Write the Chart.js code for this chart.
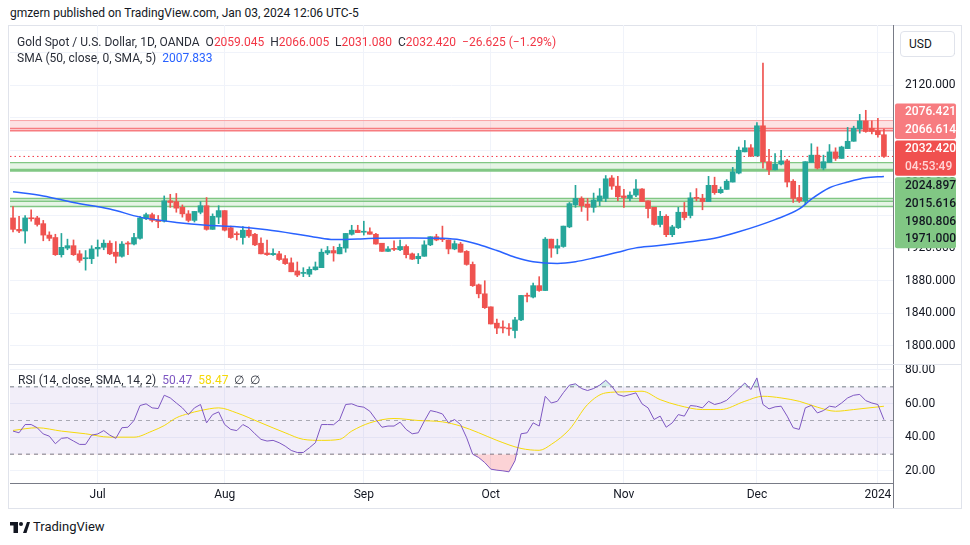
<!DOCTYPE html>
<html lang="en">
<head>
<meta charset="UTF-8" />
<title>Gold Spot / U.S. Dollar, 1D</title>
<script src="https://cdn.jsdelivr.net/npm/chart.js"></script>
<style>
  * { box-sizing: border-box; margin: 0; padding: 0; }
  body { width: 970px; height: 545px; background: #fff; font-family: Roboto, Arial, sans-serif; color: #131722; position: relative; overflow: hidden; }
  .abs { position: absolute; white-space: nowrap; }
  #frame { left: 8px; top: 25px; width: 954px; height: 484px; border: 1px solid #e0e3eb; }
  #mainWrap { left: 8px; top: 25px; width: 952px; height: 340px; }
  #rsiWrap { left: 8px; top: 365px; width: 952px; height: 143px; }
  #sep { left: 9px; top: 364px; width: 952px; height: 1px; background: #e0e3eb; }
  #axisSep { left: 893px; top: 483px; width: 1px; height: 25px; background: #787b86; }
  .hdr { left: 10px; top: 6px; font-size: 12px; line-height: 15px; color: #131722; }
  .legend { font-size: 12px; line-height: 15px; color: #2a2e39; }
  .red { color: #f23645; }
  .blue { color: #2962ff; }
  .purple { color: #7e57c2; }
  .yellow { color: #f5d90a; }
  #usd { left: 900px; top: 31px; width: 55px; height: 26px; border: 1px solid #e0e3eb; border-radius: 4px; background: #fff; font-size: 12px; line-height: 24px; padding-left: 8px; z-index: 5; }
  #logo { left: 10px; top: 519px; font-size: 13px; line-height: 16px; color: #131722; display: flex; align-items: center; gap: 3px; }
</style>
</head>
<body>

<div class="abs hdr">gmzern published on TradingView.com, Jan 03, 2024 12:06 UTC-5</div>
<div class="abs" id="frame"></div>
<div class="abs" id="mainWrap"><canvas id="mainChart"></canvas></div>
<div class="abs" id="sep"></div>
<div class="abs" id="rsiWrap"><canvas id="rsiChart"></canvas></div>
<div class="abs" id="axisSep"></div>
<div class="abs" id="usd">USD</div>

<div class="abs legend" id="legend1" style="left:17px;top:35px"></div>
<div class="abs legend" id="legend2" style="left:17px;top:51px"></div>
<div class="abs legend" id="legend3" style="left:18px;top:373px"></div>

<div class="abs" id="logo">
  <svg width="20" height="11" viewBox="0 0 20 11">
    <rect x="0" y="0" width="8" height="3.5" fill="#131722"/>
    <rect x="3.5" y="0" width="4.5" height="11" fill="#131722"/>
    <circle cx="11" cy="2" r="2" fill="#131722"/>
    <polygon points="13,11 17,0 20,0 16.5,11" fill="#131722"/>
  </svg>
  <span>TradingView</span>
</div>

<script>
  const UP = '#26a69a';
  const DOWN = '#ef5350';
  const GRID = '#f0f3fa';

  // daily candles, Jun 13 2023 .. Jan 3 2024
  const opens = [
    1957, 1943, 1941, 1957, 1957, 1950, 1936, 1933, 1912, 1920,
    1923, 1913, 1907, 1907, 1919, 1921, 1926, 1915, 1910, 1925.5,
    1925, 1932, 1956, 1961, 1954.3, 1953, 1978, 1977, 1970, 1962,
    1954, 1964, 1972, 1943, 1958, 1966, 1945, 1937.5, 1933, 1942,
    1937, 1926, 1914, 1912, 1913, 1907, 1902, 1892, 1889, 1888,
    1893.5, 1896, 1914, 1917, 1913, 1920, 1937, 1942, 1939.5, 1940,
    1937, 1926, 1916, 1919, 1918, 1922, 1913, 1907, 1910, 1924,
    1934, 1931, 1930, 1919, 1925, 1916, 1900, 1875, 1864, 1848,
    1828, 1823, 1822, 1819, 1832, 1862, 1860, 1874, 1868, 1931,
    1920, 1922, 1946, 1973, 1981, 1974, 1970, 1978, 1981, 2006,
    1996, 1984, 1981, 1985, 1992.5, 1978, 1970, 1949, 1959, 1936.5,
    1945, 1964, 1960, 1982, 1981, 1977, 1997, 1988, 1992, 2001,
    2012, 2038, 2043, 2033, 2070, 2026, 2016, 2023, 2027, 2002,
    1982, 1978, 2025, 2034, 2018, 2025, 2038, 2030, 2042, 2051,
    2066, 2076, 2067, 2064, 2059.045
  ];
  const highs = [
    1971, 1959, 1960, 1967, 1959, 1954, 1940, 1937, 1938, 1931,
    1930, 1917, 1917, 1923, 1930, 1930, 1929, 1928, 1928, 1928,
    1938, 1959, 1963, 1963, 1960, 1984, 1986, 1987, 1973, 1966,
    1965, 1977, 1982, 1962, 1972, 1966, 1947, 1940, 1946.5, 1946,
    1938, 1932.5, 1930, 1919, 1916, 1911, 1908, 1903, 1896, 1897,
    1903, 1919, 1922, 1922, 1925, 1938, 1948, 1948, 1953, 1945,
    1938, 1926, 1922, 1929, 1930, 1924, 1914, 1913.4, 1929, 1934,
    1937, 1947, 1930, 1929, 1927, 1917, 1903, 1876, 1880, 1848,
    1833, 1831, 1827.6, 1835, 1862, 1865, 1877, 1885, 1933, 1931,
    1931, 1947, 1976, 1997, 1983, 1981, 1987.5, 1993, 2009, 2009,
    2008, 1992, 1989, 2004, 1993, 1978, 1970, 1965, 1961, 1948,
    1970, 1976, 1988, 1993, 1986, 2008, 2007, 1995, 2004, 2019,
    2044, 2052, 2047, 2074, 2147, 2041, 2036, 2040, 2029, 2004,
    1997, 2026, 2048, 2044, 2034, 2047, 2043, 2045, 2068, 2069.5,
    2084, 2089, 2076, 2079, 2066.005
  ];
  const lows = [
    1940, 1939, 1926, 1953, 1947, 1929, 1929, 1911, 1909, 1918,
    1911, 1902.5, 1893, 1901, 1910, 1918, 1912, 1902, 1909, 1912,
    1924, 1931, 1955, 1952, 1945, 1952, 1970, 1964, 1958, 1952,
    1952, 1962, 1942, 1943, 1950, 1941, 1932, 1930, 1925, 1933,
    1923, 1913, 1911, 1911, 1905, 1900, 1891, 1885, 1885, 1885,
    1893, 1896, 1912, 1904, 1913, 1915, 1936, 1939, 1936, 1937,
    1925, 1916, 1916, 1917, 1917, 1908, 1906, 1901, 1910, 1923,
    1929, 1928, 1913, 1918, 1915, 1899, 1873, 1859, 1846, 1827,
    1815, 1816, 1813, 1810, 1831, 1854, 1859, 1867, 1868, 1908.7,
    1913, 1921, 1945, 1970, 1965, 1954, 1964, 1972, 1977, 1992,
    1978, 1970, 1978, 1983, 1977, 1957, 1948, 1946, 1934, 1934,
    1944, 1954.6, 1957, 1978, 1967, 1977, 1986, 1987, 1992, 2001,
    2011, 2038, 2032, 2033, 2018, 2010, 2016, 2022, 1995, 1976,
    1976, 1973, 2025, 2017, 2016, 2025, 2027.5, 2030, 2042, 2051,
    2061, 2062, 2060, 2056, 2031.08
  ];
  const closes = [
    1943, 1941, 1957, 1956, 1949, 1936, 1932, 1912, 1921, 1923,
    1912, 1905, 1908, 1919, 1921, 1926, 1913, 1910, 1925, 1925,
    1933, 1957, 1961, 1954, 1952.6, 1978, 1976, 1969, 1962, 1954,
    1965, 1972, 1943, 1959, 1966, 1942, 1933, 1936.5, 1942, 1935,
    1924, 1913, 1912, 1913.5, 1906, 1901, 1891, 1887, 1890, 1894,
    1897, 1915, 1917, 1914, 1921, 1938, 1942, 1939, 1940.5, 1937,
    1925, 1916, 1919, 1918.5, 1922, 1912, 1906.5, 1910, 1924, 1934,
    1930, 1930.5, 1919, 1925.5, 1915, 1900, 1874, 1864, 1847, 1827,
    1822, 1822, 1821, 1832, 1862, 1861, 1874, 1868, 1931, 1920,
    1923, 1947, 1974.5, 1981, 1972, 1970, 1979, 1984, 2005, 1996,
    1983, 1982, 1985, 1992.5, 1977, 1968.5, 1949, 1959, 1936.5, 1946,
    1964, 1957.5, 1981.5, 1981, 1977, 1997, 1988, 1992, 2002, 2013.5,
    2040, 2043, 2033, 2070, 2026, 2016, 2023, 2027, 2001, 1981,
    1978, 2026, 2034, 2018, 2026, 2038, 2030, 2044, 2051, 2067,
    2076, 2063, 2063, 2059.045, 2032.42
  ];

  // SMA(50) at some bars
  const smaIdx = [0, 5, 10, 16, 21, 27, 32, 37, 42, 47, 50, 53, 57, 60, 66, 71, 74, 77, 80, 83,
                  86, 90, 93, 96, 100, 103, 106, 111, 116, 120, 126, 130, 132, 135, 138, 141, 144];
  const smaVal = [1989, 1984, 1976, 1968, 1958, 1951.5, 1948, 1946.3, 1942.5, 1937, 1933.3, 1930.5,
                  1931.3, 1932, 1932.5, 1932, 1930, 1924.5, 1917, 1908.8, 1903.4, 1901.3, 1903.4,
                  1907.9, 1915, 1920.3, 1922.7, 1927, 1932, 1940, 1955, 1968, 1980, 1994, 2001,
                  2006.3, 2007.833];

  // RSI(14) per bar
  const rsi = [
    43.7, 42.7, 47.6, 47.6, 45.7, 42, 40.7, 36.2, 39.4, 39.8,
    37.8, 35.8, 35.8, 41.3, 42, 44, 41.3, 39.4, 45.7, 46,
    50, 58.9, 59.9, 57.5, 57.1, 65, 63.4, 60.4, 57.5, 53.5,
    57.5, 59.5, 48.6, 53.5, 55.1, 47.6, 44.7, 44, 47.6, 45.7,
    42.1, 38.8, 37.8, 38.2, 36.8, 34.8, 32.2, 31, 31, 33.8,
    36.8, 47.6, 47.6, 47.5, 50.5, 59.5, 59.9, 58.5, 57.9, 55.5,
    50.6, 46, 46.7, 46.7, 49, 44.7, 42.1, 42.7, 49.6, 55.9,
    55.1, 53.9, 48.6, 50.6, 47.6, 39.8, 30, 28, 25, 21.1,
    20.5, 20.1, 19.5, 26.1, 42.1, 42.7, 48.6, 46.7, 64.4, 60.4,
    61.4, 66.5, 71, 71.8, 69, 67.8, 69, 71, 73.9, 70.4,
    65.4, 64.4, 65.4, 66.4, 59.9, 57.5, 50.6, 52.6, 46, 48.6,
    53.5, 52.6, 58.9, 58.5, 57.5, 61.4, 59.5, 60.4, 62, 65.4,
    68.8, 72.3, 68.4, 75.3, 59.5, 56.9, 58.1, 58.5, 52.6, 45.7,
    44.7, 57.5, 59, 54.5, 55.9, 58.5, 57.9, 60.4, 63.4, 65,
    65.5, 61.8, 60.4, 59.5, 50.47
  ];
  // RSI-based SMA(14), read at some bars
  const rsiMaIdx = [0, 4, 8, 12, 16, 20, 23, 25, 27, 29, 31, 34, 37, 41, 45, 48, 51, 54, 56, 59,
                    63, 67, 71, 74, 77, 80, 84, 87, 89, 92, 95, 98, 101, 104, 107, 110, 114, 117,
                    121, 124, 127, 130, 133, 136, 139, 144];
  const rsiMaVal = [44.1, 45.7, 43.7, 42.1, 40.1, 40.1, 43.7, 47, 51.6, 54.1, 55.9, 57.5, 54.5, 48.6,
                    42.7, 38.8, 38.2, 38.8, 43.7, 48.6, 51.2, 50, 49.2, 46.7, 42.7, 38.2, 33.4, 32.3,
                    35.8, 44.7, 59.5, 66.4, 67, 67.4, 62.4, 59, 56.5, 56.5, 61.4, 64.4, 63.4, 61.4,
                    57.9, 55.5, 56.5, 58.47];

  // drawn levels
  const redZone = [2076.421, 2063.8];
  const redLines = [2076.421, 2066.614, 2063.8];
  const greenZoneA = [2024.897, 2015.616];
  const greenZoneB = [1980.806, 1971.0];
  const greenLinesB = [1980.806, 1977.6, 1971.0];
  const redTags = [2076.421, 2066.614];
  const greenTags = [2024.897, 2015.616, 1980.806, 1971.0];
  const countdown = '04:53:49';

  const priceTicks = [1800, 1840, 1880, 1920, 1960, 2000, 2040, 2080, 2120, 2160];
  const rsiTicks = [20, 40, 60, 80];
  const monthText = ['Jul', 'Aug', 'Sep', 'Oct', 'Nov', 'Dec', '2024'];
  const holidays = ['2023-12-25', '2024-01-01'];

  function tradingDays() {
    const out = [];
    const d = new Date(Date.UTC(2023, 5, 13));
    const end = Date.UTC(2024, 0, 3);
    while (d.getTime() <= end) {
      const wd = d.getUTCDay();
      const s = d.toISOString().slice(0, 10);
      if (wd !== 0 && wd !== 6 && !holidays.includes(s)) out.push(s);
      d.setUTCDate(d.getUTCDate() + 1);
    }
    return out;
  }

  const dates = tradingDays();
  const slots = dates.concat(['']); // one empty slot = right margin before the price scale
  const monthIdx = [];
  dates.forEach((d, i) => { if (i > 0 && d.slice(5, 7) !== dates[i - 1].slice(5, 7)) monthIdx.push(i); });

  const colors = closes.map((c, i) => c >= opens[i] ? UP : DOWN);
  const smaData = slots.map(() => null);
  smaIdx.forEach((k, j) => { smaData[k] = smaVal[j]; });
  const rsiMaData = slots.map(() => null);
  rsiMaIdx.forEach((k, j) => { rsiMaData[k] = rsiMaVal[j]; });

  // legends
  const n = closes.length - 1;
  const chg = closes[n] - closes[n - 1];
  const pct = chg / closes[n - 1] * 100;
  const cls = chg < 0 ? 'red' : 'green';
  const f3 = v => v.toFixed(3);
  const minus = s => s.replace('-', '\u2212');
  document.getElementById('legend1').innerHTML =
    'Gold Spot / U.S. Dollar, 1D, OANDA&nbsp;&nbsp;' +
    'O<span class="' + cls + '">' + f3(opens[n]) + '</span>&nbsp;&nbsp;' +
    'H<span class="' + cls + '">' + f3(highs[n]) + '</span>&nbsp;&nbsp;' +
    'L<span class="' + cls + '">' + f3(lows[n]) + '</span>&nbsp;&nbsp;' +
    'C<span class="' + cls + '">' + f3(closes[n]) + '</span>&nbsp;&nbsp;' +
    '<span class="' + cls + '">' + minus(f3(chg)) + ' (' + minus(pct.toFixed(2)) + '%)</span>';
  document.getElementById('legend2').innerHTML =
    'SMA (50, close, 0, SMA, 5)&nbsp;&nbsp;<span class="blue">' + f3(smaVal[smaVal.length - 1]) + '</span>';
  document.getElementById('legend3').innerHTML =
    'RSI (14, close, SMA, 14, 2)&nbsp;&nbsp;<span class="purple">' + rsi[rsi.length - 1].toFixed(2) +
    '</span>&nbsp;&nbsp;<span class="yellow">' + rsiMaVal[rsiMaVal.length - 1].toFixed(2) +
    '</span>&nbsp;&nbsp;\u2205&nbsp;&nbsp;\u2205';

  function hLine(ctx, area, y, color, width, dash) {
    ctx.save();
    ctx.strokeStyle = color;
    ctx.lineWidth = width;
    ctx.setLineDash(dash || []);
    ctx.beginPath();
    ctx.moveTo(area.left, y);
    ctx.lineTo(area.right, y);
    ctx.stroke();
    ctx.restore();
  }

  function band(ctx, area, y1, y2, color) {
    ctx.fillStyle = color;
    ctx.fillRect(area.left, Math.min(y1, y2), area.right - area.left, Math.abs(y2 - y1));
  }

  const levelsPlugin = {
    id: 'levels',
    beforeDatasetsDraw(chart) {
      const { ctx, chartArea: a, scales: { y } } = chart;
      const py = v => y.getPixelForValue(v);
      band(ctx, a, py(redZone[0]), py(redZone[1]), 'rgba(247,124,128,0.22)');
      hLine(ctx, a, py(redLines[0]), '#f9a3a6', 1);
      hLine(ctx, a, py(redLines[1]), '#f77c80', 1.5);
      hLine(ctx, a, py(redLines[2]), '#f77c80', 1.5);
      band(ctx, a, py(greenZoneA[0]), py(greenZoneA[1]), 'rgba(129,199,132,0.2)');
      hLine(ctx, a, py(greenZoneA[0]), '#81c784', 1.2);
      hLine(ctx, a, py(greenZoneA[1]), '#81c784', 3);
      band(ctx, a, py(greenZoneB[0]), py(greenZoneB[1]), 'rgba(129,199,132,0.2)');
      greenLinesB.forEach(v => hLine(ctx, a, py(v), '#81c784', 1.5));
      hLine(ctx, a, py(closes[n]), '#f23645', 1, [1.5, 3]);
    }
  };

  const tagsPlugin = {
    id: 'tags',
    afterDraw(chart) {
      const { ctx, scales: { y } } = chart;
      const rowH = 17.7;
      const groups = [
        { bg: '#f77c80', fg: ['#ffffff', '#ffffff'], rows: redTags.map(f3) },
        { bg: '#f0504f', fg: ['#ffffff', '#ffd6d6'], rows: [f3(closes[n]), countdown] },
        { bg: '#81c784', fg: ['#131722', '#131722', '#131722', '#131722'], rows: greenTags.map(f3) }
      ];
      let top = y.getPixelForValue(redTags[0]) - 17;
      ctx.save();
      ctx.font = '500 12px Roboto';
      ctx.textBaseline = 'middle';
      ctx.textAlign = 'left';
      groups.forEach(g => {
        const h = g.rows.length * rowH;
        ctx.fillStyle = g.bg;
        ctx.beginPath();
        ctx.roundRect(y.left + 2, top, y.width - 6, h, 2);
        ctx.fill();
        g.rows.forEach((t, k) => {
          ctx.fillStyle = g.fg[k];
          ctx.fillText(t, y.left + 12, top + rowH * (k + 0.5));
        });
        top += h + 1.5;
      });
      ctx.restore();
    }
  };

  const rsiBandPlugin = {
    id: 'rsiBand',
    beforeDatasetsDraw(chart) {
      const { ctx, chartArea: a, scales: { y } } = chart;
      band(ctx, a, y.getPixelForValue(70), y.getPixelForValue(30), 'rgba(126,87,194,0.1)');
      hLine(ctx, a, y.getPixelForValue(70), '#787b86', 1, [4, 4]);
      hLine(ctx, a, y.getPixelForValue(50), 'rgba(120,123,134,0.6)', 1, [4, 4]);
      hLine(ctx, a, y.getPixelForValue(30), '#787b86', 1, [4, 4]);
    }
  };

  const xGrid = c => monthIdx.includes(c.index) ? GRID : 'rgba(0,0,0,0)';
  // fixed-width price scale, no label padding eating into the pane
  const fitY = s => { s.width = 67; s.paddingTop = 0; s.paddingBottom = 0; };

  new Chart(document.getElementById('mainChart'), {
    type: 'bar',
    data: {
      labels: slots,
      datasets: [
        {
          type: 'line', data: smaData, borderColor: '#2962ff', borderWidth: 1.5,
          pointRadius: 0, spanGaps: true, cubicInterpolationMode: 'monotone', order: 0
        },
        {
          data: lows.map((l, i) => [l, highs[i]]), backgroundColor: colors,
          barThickness: 1, grouped: false, order: 2
        },
        {
          data: opens.map((o, i) => [o, closes[i]]), backgroundColor: colors,
          barThickness: 5, minBarLength: 1, grouped: false, order: 1
        }
      ]
    },
    options: {
      animation: false,
      responsive: true,
      maintainAspectRatio: false,
      layout: { padding: { left: 2, top: 0, bottom: 0, right: 0 } },
      plugins: { legend: { display: false }, tooltip: { enabled: false } },
      scales: {
        x: {
          afterFit: s => { s.height = 0; s.paddingLeft = 0; s.paddingRight = 0; },
          ticks: { display: false },
          grid: { color: xGrid, drawTicks: false, offset: false },
          border: { display: false }
        },
        y: {
          position: 'right',
          min: 1776.7,
          max: 2193.57,
          afterFit: fitY,
          afterBuildTicks: s => { s.ticks = priceTicks.map(v => ({ value: v })); },
          ticks: { callback: v => v.toFixed(3), font: { family: 'Roboto', size: 12 }, color: '#131722', padding: 12 },
          grid: { color: GRID, drawTicks: false },
          border: { color: '#787b86' }
        }
      }
    },
    plugins: [levelsPlugin, tagsPlugin]
  });

  new Chart(document.getElementById('rsiChart'), {
    type: 'line',
    data: {
      labels: slots,
      datasets: [
        {
          data: rsi, borderColor: '#7e57c2', borderWidth: 1, pointRadius: 0, tension: 0,
          fill: { target: { value: 30 }, above: 'rgba(0,0,0,0)', below: 'rgba(242,54,69,0.22)' }
        },
        {
          data: rsi, borderWidth: 0, pointRadius: 0, tension: 0,
          fill: { target: { value: 70 }, above: 'rgba(38,166,154,0.2)', below: 'rgba(0,0,0,0)' }
        },
        {
          data: rsiMaData, borderColor: '#f5d90a', borderWidth: 1, pointRadius: 0,
          spanGaps: true, cubicInterpolationMode: 'monotone', fill: false
        }
      ]
    },
    options: {
      animation: false,
      responsive: true,
      maintainAspectRatio: false,
      layout: { padding: { left: 2, top: 0, bottom: 0, right: 0 } },
      plugins: { legend: { display: false }, tooltip: { enabled: false } },
      scales: {
        x: {
          offset: true,
          afterFit: s => { s.height = 25; s.paddingLeft = 0; s.paddingRight = 0; },
          ticks: {
            autoSkip: false, maxRotation: 0, padding: 5,
            font: { family: 'Roboto', size: 12 }, color: '#131722',
            callback: (v, i) => { const k = monthIdx.indexOf(i); return k >= 0 ? monthText[k] : ''; }
          },
          grid: { color: xGrid, drawTicks: false, offset: false },
          border: { color: '#787b86' }
        },
        y: {
          position: 'right',
          min: 12.87,
          max: 82.97,
          afterFit: fitY,
          afterBuildTicks: s => { s.ticks = rsiTicks.map(v => ({ value: v })); },
          ticks: { callback: v => v.toFixed(2), font: { family: 'Roboto', size: 12 }, color: '#131722', padding: 12 },
          grid: { color: GRID, drawTicks: false },
          border: { color: '#787b86' }
        }
      }
    },
    plugins: [rsiBandPlugin]
  });
</script>
</body>
</html>
